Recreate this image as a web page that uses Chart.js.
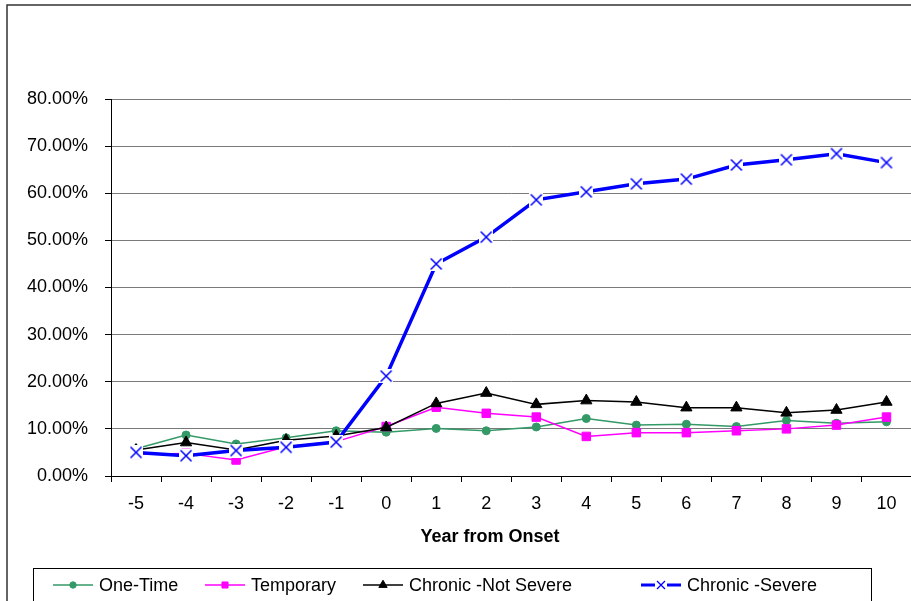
<!DOCTYPE html>
<html><head><meta charset="utf-8">
<script src="https://cdn.jsdelivr.net/npm/chart.js@4/dist/chart.umd.min.js"></script>
<style>html,body{margin:0;padding:0;background:#fff;overflow:hidden;width:911px;height:601px}canvas{display:block}</style>
</head><body>
<canvas id="c" width="922" height="601"></canvas>
<script>
// ---- data (percent) ----
const years = ['-5','-4','-3','-2','-1','0','1','2','3','4','5','6','7','8','9','10'];
const oneTime          = [5.8, 8.7, 6.8, 8.1, 9.6, 9.3, 10.1, 9.6, 10.4, 12.2, 10.8, 11.0, 10.5, 11.8, 11.2, 11.5];
const temporary        = [4.6, 4.8, 3.4, 6.2, 7.3, 10.5, 14.6, 13.3, 12.5, 8.4, 9.2, 9.2, 9.6, 10.0, 10.8, 12.5];
const chronicNotSevere = [5.5, 7.1, 5.5, 7.6, 8.5, 10.3, 15.4, 17.6, 15.2, 16.0, 15.7, 14.5, 14.5, 13.4, 14.0, 15.7];
const chronicSevere    = [5.0, 4.3, 5.4, 6.1, 7.2, 21.2, 45.0, 50.7, 58.6, 60.3, 62.0, 63.0, 66.0, 67.1, 68.4, 66.5];
const seriesLabels = ['One-Time', 'Temporary', 'Chronic -Not Severe', 'Chronic -Severe'];
const yMin = 0, yMax = 80, yStep = 10;
const xTitle = 'Year from Onset';

const FONT = "'Liberation Sans', Arial, sans-serif";

function makeXMarker(){
  const c = document.createElement('canvas'); c.width = 14; c.height = 14;
  const g = c.getContext('2d');
  g.fillStyle = '#fff'; g.fillRect(0, 0, 14, 14);
  g.strokeStyle = '#0000ff'; g.lineWidth = 1.5;
  g.beginPath(); g.moveTo(1.5, 1.5); g.lineTo(12.5, 12.5); g.moveTo(12.5, 1.5); g.lineTo(1.5, 12.5); g.stroke();
  return c;
}
const xMarker = makeXMarker();

const legendSymbolX = [53, 205, 363, 641];
const legendMarkers = [
  {pointStyle: 'circle', radius: 3.2},
  {pointStyle: 'rect', radius: 4.3},
  {pointStyle: 'triangle', radius: 4.8},
  {pointStyle: 'crossRot', radius: 5}
];

const framePlugin = {
  id: 'frame',
  afterDraw(chart) {
    const ctx = chart.ctx;
    ctx.save();
    // outer chart border
    ctx.strokeStyle = '#333'; ctx.lineWidth = 1.5;
    ctx.beginPath(); ctx.moveTo(7, 610); ctx.lineTo(7, 5); ctx.lineTo(930, 5); ctx.stroke();
    // x axis title
    ctx.fillStyle = '#000';
    ctx.font = 'bold 18px ' + FONT;
    ctx.textAlign = 'center'; ctx.textBaseline = 'middle';
    ctx.fillText(chart.options.scales.x.title.text, 490, 537);
    // legend box
    ctx.strokeStyle = '#000'; ctx.lineWidth = 1;
    ctx.strokeRect(33.5, 568.5, 838, 40);
    // legend items
    const ly = 585;
    chart.data.datasets.forEach((ds, i) => {
      const x0 = legendSymbolX[i];
      ctx.strokeStyle = ds.borderColor; ctx.lineWidth = i === 3 ? 3 : 1.5;
      ctx.beginPath(); ctx.moveTo(x0, ly); ctx.lineTo(x0 + 40, ly); ctx.stroke();
      const m = legendMarkers[i];
      if (i === 3) { ctx.fillStyle = '#fff'; ctx.fillRect(x0 + 14, ly - 6, 12, 12); }
      ctx.fillStyle = ds.borderColor; ctx.strokeStyle = ds.borderColor;
      ctx.lineWidth = i === 3 ? 1.3 : 1;
      if (m.pointStyle === 'crossRot') {
        const r = m.radius * 0.8;
        ctx.beginPath();
        ctx.moveTo(x0 + 20 - r, ly - r); ctx.lineTo(x0 + 20 + r, ly + r);
        ctx.moveTo(x0 + 20 + r, ly - r); ctx.lineTo(x0 + 20 - r, ly + r);
        ctx.stroke();
      } else {
        Chart.helpers.drawPoint(ctx, {pointStyle: m.pointStyle, radius: m.radius, rotation: 0, borderWidth: 1}, x0 + 20, ly);
      }
      ctx.fillStyle = '#000';
      ctx.font = '18px ' + FONT;
      ctx.textBaseline = 'alphabetic'; ctx.textAlign = 'left';
      ctx.fillText(ds.label, x0 + 46, 591);
    });
    ctx.restore();
  }
};

new Chart(document.getElementById('c'), {
  type: 'line',
  data: {
    labels: years,
    datasets: [
      {label: seriesLabels[0], data: oneTime, borderColor: '#339966', backgroundColor: '#339966',
       borderWidth: 1.5, pointStyle: 'circle', pointRadius: 4, pointBorderWidth: 1, order: 3},
      {label: seriesLabels[1], data: temporary, borderColor: '#ff00ff', backgroundColor: '#ff00ff',
       borderWidth: 1.5, pointStyle: 'rect', pointRadius: 6, pointBorderWidth: 1, order: 2},
      {label: seriesLabels[2], data: chronicNotSevere, borderColor: '#000000', backgroundColor: '#000000',
       borderWidth: 1.5, pointStyle: 'triangle', pointRadius: 6.5, pointBorderWidth: 1, order: 1},
      {label: seriesLabels[3], data: chronicSevere, borderColor: '#0000ff', backgroundColor: '#0000ff',
       borderWidth: 3.5, pointStyle: xMarker, pointRadius: 7, order: 0}
    ]
  },
  options: {
    responsive: false,
    animation: false,
    devicePixelRatio: 1,
    layout: {padding: {left: 0, top: 99, right: 0, bottom: 0}},
    plugins: {legend: {display: false}, tooltip: {enabled: false}},
    elements: {line: {tension: 0}},
    scales: {
      x: {
        type: 'category',
        offset: true,
        grid: {offset: true, drawOnChartArea: false, drawTicks: true, tickLength: 6, color: '#000', lineWidth: 1},
        border: {color: '#000', width: 1},
        ticks: {color: '#000', font: {family: FONT, size: 18}, padding: 11, maxRotation: 0, autoSkip: false},
        title: {display: false, text: xTitle},
        afterFit: s => { s.height = 125; }
      },
      y: {
        min: yMin, max: yMax,
        grid: {color: '#7a7a7a', lineWidth: 1, tickColor: '#000', tickLength: 6, drawTicks: true},
        border: {color: '#000', width: 1},
        ticks: {stepSize: yStep, color: '#000', font: {family: FONT, size: 18}, padding: 17,
                callback: v => v.toFixed(2) + '%'},
        afterFit: s => { s.width = 111; }
      }
    }
  },
  plugins: [framePlugin]
});
</script>
</body></html>
